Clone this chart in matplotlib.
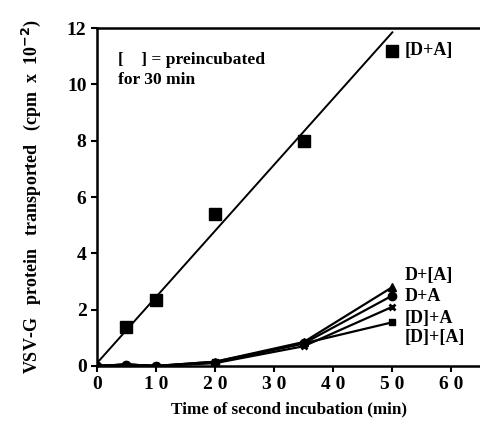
import numpy as np
import matplotlib
matplotlib.use('Agg')
import matplotlib.pyplot as plt

plt.rcParams['font.family'] = ['Liberation Serif', 'DejaVu Serif']
plt.rcParams['font.weight'] = 'bold'

# 数据
t_da = [5, 10, 20, 35, 50]
y_da = [1.4, 2.35, 5.4, 8.0, 11.2]
fit_x = [0, 50]
fit_y = [0.1, 11.85]

t_low = [0, 5, 10, 20, 35, 50]
y_d_a2 = [0.0, 0.05, 0.0, 0.15, 0.85, 2.8]   # D+[A]
y_d_a = [0.0, 0.05, 0.0, 0.12, 0.8, 2.5]     # D+A
y_d2_a = [0.0, 0.05, 0.0, 0.1, 0.7, 2.1]     # [D]+A
y_d2_a2 = [0.0, 0.05, 0.0, 0.15, 0.8, 1.55]  # [D]+[A]

xticks = [0, 10, 20, 30, 40, 50, 60]
xtick_labels = ['0', '1 0', '2 0', '3 0', '4 0', '5 0', '6 0']
yticks = [0, 2, 4, 6, 8, 10, 12]

fig = plt.figure(figsize=(4.8, 4.26), dpi=100)
ax = fig.add_axes([0.202, 0.141, 0.8, 0.793])

ax.plot(fit_x, fit_y, color='black', lw=1.4)
ax.plot(t_da, y_da, 's', color='black', ms=9, ls='none')

ax.plot(t_low, y_d_a2, '-^', color='black', lw=1.6, ms=6)
ax.plot(t_low, y_d_a, '-o', color='black', lw=1.6, ms=6)
ax.plot(t_low, y_d2_a, '-x', color='black', lw=1.6, ms=5, mew=2)
ax.plot(t_low, y_d2_a2, '-s', color='black', lw=1.6, ms=5)

ax.text(52, 11.2, '[D+A]', fontsize=13, fontweight='bold', va='center')
ax.text(52, 3.2, 'D+[A]', fontsize=13, fontweight='bold', va='center')
ax.text(52, 2.45, 'D+A', fontsize=13, fontweight='bold', va='center')
ax.text(52, 1.68, '[D]+A', fontsize=13, fontweight='bold', va='center')
ax.text(52, 1.0, '[D]+[A]', fontsize=13, fontweight='bold', va='center')
ax.text(3.6, 10.5, '[    ] = preincubated\nfor 30 min', fontsize=12.6,
        fontweight='bold', va='center', linespacing=1.35)

ax.set_xlim(0, 65)
ax.set_ylim(0, 12)
ax.set_xticks(xticks)
ax.set_xticklabels(xtick_labels)
ax.set_yticks(yticks)
ax.tick_params(direction='out', length=4, width=1.5, labelsize=14)
for lab in ax.get_xticklabels() + ax.get_yticklabels():
    lab.set_fontweight('bold')
for s in ['left', 'bottom', 'top']:
    ax.spines[s].set_linewidth(1.8)
ax.spines['right'].set_visible(False)

ax.set_xlabel('Time of second incubation (min)', fontsize=12.3, fontweight='bold', labelpad=6)
ax.set_ylabel('VSV-G   protein   transported   (cpm  x  10$^{\\mathbf{-2}}$)',
              fontsize=13, fontweight='bold', labelpad=17)

fig.savefig('out.png', dpi=100)
